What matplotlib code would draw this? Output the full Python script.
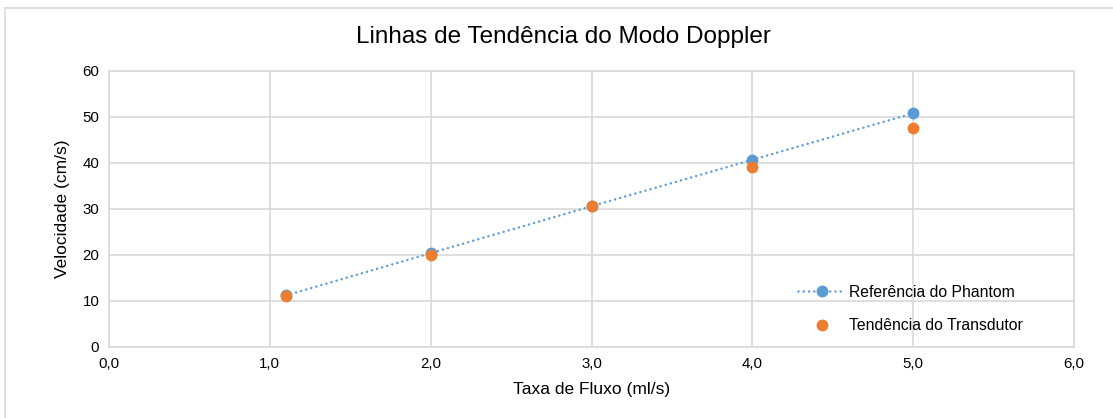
import matplotlib.pyplot as plt
from matplotlib.patches import Rectangle

# ==============================================
# DATA
# ==============================================
flow_rate = [1.1, 2.0, 3.0, 4.0, 5.0]                 # Taxa de fluxo (ml/s)
phantom_velocity = [11.2, 20.4, 30.6, 40.7, 50.8]      # Referência do Phantom
transducer_velocity = [11.1, 20.1, 30.6, 39.2, 47.7]   # Tendência do Transdutor

x_ticks = [0, 1, 2, 3, 4, 5, 6]
y_ticks = [0, 10, 20, 30, 40, 50, 60]

BLUE = "#5B9BD5"
ORANGE = "#ED7D31"
GRID = "#D9D9D9"

plt.rcParams["font.family"] = ["Liberation Sans", "DejaVu Sans"]

fig = plt.figure(figsize=(11.13, 4.18), dpi=100)
ax = fig.add_axes([109 / 1113, 1 - 347 / 418, 965 / 1113, 276 / 418])

# moldura do gráfico
fig.patches.append(Rectangle((5 / 1113, -0.1), 1.2, 1 - 8 / 418 + 0.1,
                             transform=fig.transFigure, fill=False,
                             edgecolor="#D9D9D9", linewidth=1.2))

ax.plot(flow_rate, phantom_velocity, linestyle=(0, (0.01, 2.1)), linewidth=1.8,
        color=BLUE, marker="o", markersize=7.5, label="Referência do Phantom",
        zorder=3, dash_capstyle="round")
ax.plot(flow_rate, transducer_velocity, linestyle="none", color=ORANGE,
        marker="o", markersize=7.5, label="Tendência do Transdutor", zorder=4)

ax.set_xlim(0, 6)
ax.set_ylim(0, 60)
ax.set_xticks(x_ticks)
ax.set_xticklabels([f"{v:.1f}".replace(".", ",") for v in x_ticks])
ax.set_yticks(y_ticks)
ax.tick_params(length=0, labelsize=10.8, colors="#000000", pad=7)
ax.grid(True, color=GRID, linewidth=1.2)
for s in ax.spines.values():
    s.set_color(GRID)
    s.set_linewidth(1.2)

ax.set_xlabel("Taxa de Fluxo (ml/s)", fontsize=12.5, labelpad=8)
ax.set_ylabel("Velocidade (cm/s)", fontsize=12.5, labelpad=9)
fig.text(563 / 1113, 1 - 37 / 418, "Linhas de Tendência do Modo Doppler",
         fontsize=17.5, ha="center", va="center")

ax.legend(loc="center left", bbox_to_anchor=(798 / 1113, 1 - 309 / 418),
          bbox_transform=fig.transFigure, frameon=False, fontsize=11.3,
          handlelength=3.0, handletextpad=0.25, labelspacing=1.15,
          borderpad=0, borderaxespad=0)

fig.savefig("out.png", dpi=100)
plt.close(fig)
